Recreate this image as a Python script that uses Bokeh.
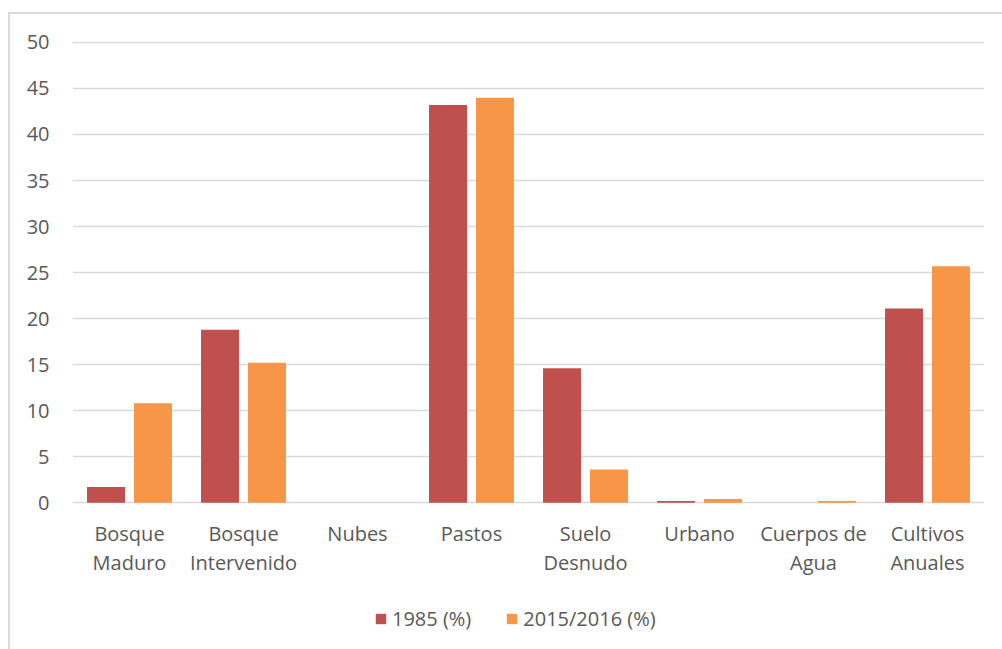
from bokeh.plotting import figure
from bokeh.models import FactorRange, Range1d, Legend, LegendItem, ColumnDataSource, FixedTicker
from bokeh.transform import dodge
from bokeh.embed import file_html
from bokeh.resources import INLINE

categories = ["Bosque\nMaduro", "Bosque\nIntervenido", "Nubes", "Pastos",
              "Suelo\nDesnudo", "Urbano", "Cuerpos de\nAgua", "Cultivos\nAnuales"]
series_names = ["1985 (%)", "2015/2016 (%)"]
v1985 = [1.7, 18.8, 0.0, 43.2, 14.6, 0.2, 0.0, 21.1]
v2015 = [10.8, 15.2, 0.0, 44.0, 3.6, 0.4, 0.2, 25.7]
y_ticks = [0, 5, 10, 15, 20, 25, 30, 35, 40, 45, 50]

colors = ["#C0504D", "#F79646"]
FONT = "Open Sans"
TXT = "#595959"

src = ColumnDataSource(dict(cat=categories, a=v1985, b=v2015))

# frame extends below zero so the category labels and legend sit inside it
p = figure(x_range=FactorRange(factors=categories, range_padding=0),
           y_range=Range1d(-15.94, 50.1),
           frame_width=912, frame_height=608,
           output_backend="svg", toolbar_location=None,
           min_border_left=62, min_border_right=18,
           min_border_top=27, min_border_bottom=0)
p.styles = {"border-top": "2px solid #d9d9d9", "border-left": "2px solid #d9d9d9",
            "margin-top": "12px", "margin-left": "8px"}

r1 = p.vbar(x=dodge("cat", -0.206, range=p.x_range), top="a", width=0.333,
            source=src, color=colors[0], line_color=None)
r2 = p.vbar(x=dodge("cat", 0.206, range=p.x_range), top="b", width=0.333,
            source=src, color=colors[1], line_color=None)

p.outline_line_color = None
p.xgrid.grid_line_color = None
p.ygrid.grid_line_color = "#d9d9d9"
p.ygrid.grid_line_width = 1.5
p.yaxis.ticker = FixedTicker(ticks=y_ticks)
p.xaxis.fixed_location = 0

for ax in (p.xaxis[0], p.yaxis[0]):
    ax.axis_line_color = None
    ax.major_tick_line_color = None
    ax.minor_tick_line_color = None
    ax.major_label_text_font = FONT
    ax.major_label_text_font_size = "20px"
    ax.major_label_text_color = TXT

p.yaxis.major_label_standoff = 17
p.xaxis.major_label_standoff = 11
p.xaxis.major_label_text_line_height = 1.08

legend = Legend(items=[LegendItem(label=series_names[0], renderers=[r1]),
                       LegendItem(label=series_names[1], renderers=[r2])],
                orientation="horizontal", location=(302, 17),
                label_text_font=FONT, label_text_font_size="20px",
                label_text_color=TXT, glyph_width=13, glyph_height=13,
                label_standoff=5, spacing=34, border_line_color=None,
                background_fill_alpha=0, margin=0, padding=3)
p.add_layout(legend, "center")

open("out.html", "w").write(file_html(p, INLINE))
